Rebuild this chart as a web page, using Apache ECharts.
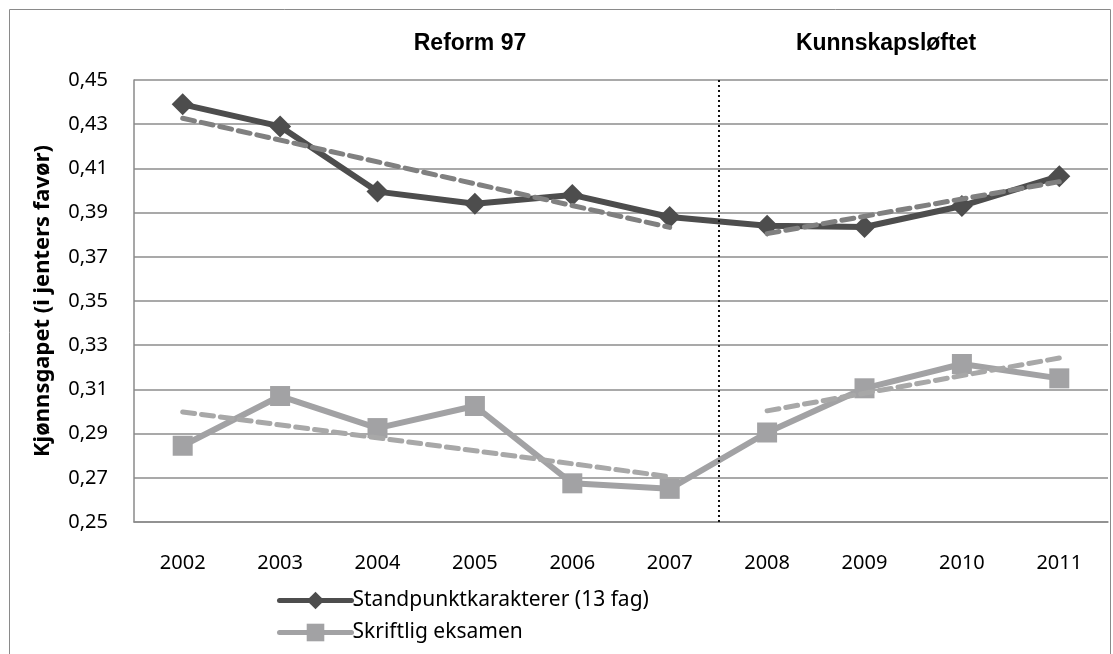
<!DOCTYPE html>
<html>
<head>
<meta charset="utf-8">
<script src="https://cdn.jsdelivr.net/npm/echarts@6/dist/echarts.min.js"></script>
<style>
  html, body { margin: 0; padding: 0; background: #fff; }
  #chart { width: 1113px; height: 654px; }
</style>
</head>
<body>
<div id="chart"></div>
<script>
// data
var years = ['2002', '2003', '2004', '2005', '2006', '2007', '2008', '2009', '2010', '2011'];
var standpunkt = [0.439, 0.429, 0.3995, 0.394, 0.398, 0.388, 0.384, 0.3835, 0.393, 0.4065];
var skriftlig = [0.2845, 0.307, 0.2925, 0.3025, 0.2675, 0.265, 0.2905, 0.3105, 0.3215, 0.315];
// trend lines: only the end points of each period
var standTrendA = [0.4327, null, null, null, null, 0.3833, null, null, null, null];
var standTrendB = [null, null, null, null, null, null, 0.3805, null, null, 0.404];
var skrTrendA = [0.2998, null, null, null, null, 0.2705, null, null, null, null];
var skrTrendB = [null, null, null, null, null, null, 0.3003, null, null, 0.3242];
var yTicks = { min: 0.25, max: 0.45, step: 0.02 };
var periodNames = ['Reform 97', 'Kunnskapsløftet'];
var reformSplit = 6; // boundary between 2007 and 2008 (category index)

var font = '"Noto Sans", "Open Sans", sans-serif';
var headFont = 'bold 23px "Liberation Sans", Arial, sans-serif';

var chart = echarts.init(document.getElementById('chart'));

function trend(name, data, color) {
  return {
    name: name,
    type: 'line',
    data: data,
    connectNulls: true,
    showSymbol: false,
    symbol: 'none',
    silent: true,
    z: 5,
    lineStyle: { color: color, width: 5, type: [12, 7], cap: 'round' }
  };
}

var option = {
  animation: false,
  backgroundColor: '#fff',
  graphic: [
    { type: 'rect', shape: { x: 9.5, y: 9.5, width: 1101, height: 700 },
      style: { fill: 'none', stroke: '#8a8a8a', lineWidth: 1 }, silent: true },
    { type: 'text', x: 470, y: 44, style: { text: periodNames[0], font: headFont,
      fill: '#000', textAlign: 'center', textVerticalAlign: 'middle' } },
    { type: 'text', x: 886, y: 44, style: { text: periodNames[1], font: headFont,
      fill: '#000', textAlign: 'center', textVerticalAlign: 'middle' } }
  ],
  grid: { left: 134, right: 5, top: 80, bottom: 132 },
  legend: {
    orient: 'vertical',
    left: 272,
    top: 585,
    itemWidth: 72,
    itemHeight: 22,
    itemGap: 11,
    lineStyle: { width: 5, cap: 'round' },
    data: ['Standpunktkarakterer (13 fag)', 'Skriftlig eksamen'],
    textStyle: { fontFamily: font, fontSize: 21, color: '#000', padding: [0, 0, 0, -4] }
  },
  xAxis: [{
    type: 'category',
    data: years,
    boundaryGap: true,
    axisLine: { lineStyle: { color: '#8a8a8a', width: 1.5 } },
    axisTick: { show: false },
    axisLabel: { fontFamily: font, fontSize: 20, color: '#000', margin: 31 },
    splitLine: { show: false }
  }, {
    type: 'value',
    min: 0,
    max: years.length,
    show: false
  }],
  yAxis: {
    type: 'value',
    min: yTicks.min,
    max: yTicks.max,
    interval: yTicks.step,
    name: 'Kjønnsgapet (i jenters favør)',
    nameLocation: 'middle',
    nameGap: 80,
    nameTextStyle: { fontFamily: font, fontSize: 22, fontWeight: 'bold', color: '#000' },
    axisLine: { show: true, lineStyle: { color: '#8a8a8a', width: 1.5 } },
    axisTick: { show: false },
    axisLabel: {
      fontFamily: font, fontSize: 20, color: '#000', margin: 26,
      formatter: function (v) { return v.toFixed(2).replace('.', ','); }
    },
    splitLine: { lineStyle: { color: '#8c8c8c', width: 1.5 } }
  },
  series: [
    {
      name: 'Standpunktkarakterer (13 fag)',
      type: 'line',
      data: standpunkt,
      symbol: 'diamond',
      symbolSize: 22,
      z: 3,
      lineStyle: { color: '#4d4d4d', width: 6 },
      itemStyle: { color: '#4d4d4d' }
    },
    {
      name: 'Skriftlig eksamen',
      type: 'line',
      data: skriftlig,
      symbol: 'rect',
      symbolSize: 20,
      z: 3,
      lineStyle: { color: '#a2a2a4', width: 6 },
      itemStyle: { color: '#a2a2a4' }
    },
    trend('trend1', standTrendA, '#808080'),
    trend('trend2', standTrendB, '#808080'),
    trend('trend3', skrTrendA, '#a8a8a8'),
    trend('trend4', skrTrendB, '#a8a8a8'),
    {
      name: 'split',
      type: 'line',
      xAxisIndex: 1,
      data: [[reformSplit, yTicks.min]],
      showSymbol: false,
      symbol: 'none',
      silent: true,
      markLine: {
        silent: true,
        symbol: 'none',
        label: { show: false },
        lineStyle: { color: '#111', width: 2, type: [2, 3] },
        data: [{ xAxis: reformSplit }]
      }
    }
  ]
};

chart.setOption(option);
</script>
</body>
</html>
